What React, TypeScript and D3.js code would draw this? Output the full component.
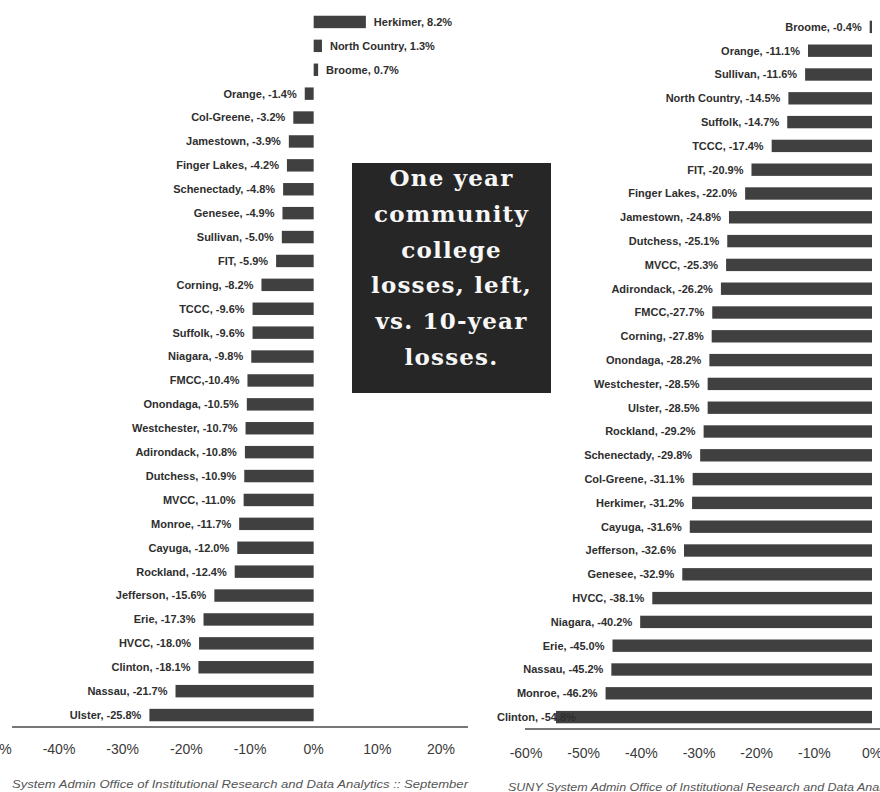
import { useEffect, useRef } from 'react';
import * as d3 from 'd3';

// one-year change, fall to fall, sorted as in the source chart
const ONE_YEAR_COLLEGES = [
  'Herkimer', 'North Country', 'Broome', 'Orange', 'Col-Greene', 'Jamestown',
  'Finger Lakes', 'Schenectady', 'Genesee', 'Sullivan', 'FIT', 'Corning',
  'TCCC', 'Suffolk', 'Niagara', 'FMCC', 'Onondaga', 'Westchester',
  'Adirondack', 'Dutchess', 'MVCC', 'Monroe', 'Cayuga', 'Rockland',
  'Jefferson', 'Erie', 'HVCC', 'Clinton', 'Nassau', 'Ulster',
];
const ONE_YEAR_CHANGE = [
  8.2, 1.3, 0.7, -1.4, -3.2, -3.9,
  -4.2, -4.8, -4.9, -5.0, -5.9, -8.2,
  -9.6, -9.6, -9.8, -10.4, -10.5, -10.7,
  -10.8, -10.9, -11.0, -11.7, -12.0, -12.4,
  -15.6, -17.3, -18.0, -18.1, -21.7, -25.8,
];

// ten-year change
const TEN_YEAR_COLLEGES = [
  'Broome', 'Orange', 'Sullivan', 'North Country', 'Suffolk', 'TCCC',
  'FIT', 'Finger Lakes', 'Jamestown', 'Dutchess', 'MVCC', 'Adirondack',
  'FMCC', 'Corning', 'Onondaga', 'Westchester', 'Ulster', 'Rockland',
  'Schenectady', 'Col-Greene', 'Herkimer', 'Cayuga', 'Jefferson', 'Genesee',
  'HVCC', 'Niagara', 'Erie', 'Nassau', 'Monroe', 'Clinton',
];
const TEN_YEAR_CHANGE = [
  -0.4, -11.1, -11.6, -14.5, -14.7, -17.4,
  -20.9, -22.0, -24.8, -25.1, -25.3, -26.2,
  -27.7, -27.8, -28.2, -28.5, -28.5, -29.2,
  -29.8, -31.1, -31.2, -31.6, -32.6, -32.9,
  -38.1, -40.2, -45.0, -45.2, -46.2, -54.8,
];

const ONE_YEAR_TICKS = [-50, -40, -30, -20, -10, 0, 10, 20];
const TEN_YEAR_TICKS = [-60, -50, -40, -30, -20, -10, 0];

const CALLOUT_LINES = ['One year', 'community', 'college', 'losses, left,', 'vs. 10-year', 'losses.'];
const ONE_YEAR_SOURCE = 'System Admin Office of Institutional Research and Data Analytics :: September';
const TEN_YEAR_SOURCE = 'SUNY System Admin Office of Institutional Research and Data Analytics';

const WIDTH = 880;
const HEIGHT = 792;
const BAR_FILL = '#404040';
const LABEL_FILL = '#2e2e2e';
const AXIS_STROKE = '#777777';
const SANS = '"Liberation Sans", Arial, sans-serif';
const LABEL_GAP = 8;

type Panel = {
  colleges: string[];
  values: number[];
  ticks: number[];
  x: d3.ScaleLinear<number, number>;
  y: d3.ScaleBand<string>;
  axisFrom: number;
  axisTo: number;
  tickY: number;
  labelMinX: number;
};

function barLabel(name: string, v: number) {
  // the FMCC label has no space after the comma in the source
  const sep = name === 'FMCC' ? ',' : ', ';
  return `${name}${sep}${v.toFixed(1)}%`;
}

function drawPanel(svg: d3.Selection<SVGSVGElement, unknown, null, undefined>, p: Panel) {
  const g = svg.append('g');
  const zero = p.x(0);
  const bw = p.y.bandwidth();

  g.selectAll('rect.bar')
    .data(p.values)
    .join('rect')
    .attr('class', 'bar')
    .attr('x', (d) => Math.min(p.x(d), zero))
    .attr('y', (_, i) => p.y(p.colleges[i]) ?? 0)
    .attr('width', (d) => Math.abs(p.x(d) - zero))
    .attr('height', bw)
    .attr('fill', BAR_FILL);

  const axisY = p.y.range()[1];
  g.append('line')
    .attr('x1', p.axisFrom)
    .attr('x2', p.axisTo)
    .attr('y1', axisY)
    .attr('y2', axisY)
    .attr('stroke', AXIS_STROKE)
    .attr('stroke-width', 2);

  g.selectAll('text.tick')
    .data(p.ticks)
    .join('text')
    .attr('class', 'tick')
    .attr('x', (t) => p.x(t))
    .attr('y', p.tickY)
    .attr('text-anchor', 'middle')
    .attr('font-family', SANS)
    .attr('font-size', 14)
    .attr('fill', '#3a3a3a')
    .text((t) => `${t}%`);

  p.values.forEach((v, i) => {
    const name = p.colleges[i];
    const cy = (p.y(name) ?? 0) + bw / 2;
    const t = g
      .append('text')
      .attr('y', cy)
      .attr('dy', '0.35em')
      .attr('font-family', SANS)
      .attr('font-size', 11)
      .attr('font-weight', 700)
      .attr('fill', LABEL_FILL)
      .text(barLabel(name, v));
    if (v >= 0) {
      t.attr('x', p.x(v) + LABEL_GAP).attr('text-anchor', 'start');
    } else {
      const end = p.x(v) - LABEL_GAP;
      const w = (t.node() as SVGTextElement).getComputedTextLength();
      if (end - w < p.labelMinX) {
        // no room left of the bar: pin to the plot edge, like Excel does
        t.attr('x', p.labelMinX).attr('text-anchor', 'start');
      } else {
        t.attr('x', end).attr('text-anchor', 'end');
      }
    }
  });
}

export default function App() {
  const ref = useRef<SVGSVGElement | null>(null);

  useEffect(() => {
    if (!ref.current) return;
    const svg = d3.select(ref.current);
    svg.selectAll('*').remove();

    svg.append('rect').attr('width', WIDTH).attr('height', HEIGHT).attr('fill', '#ffffff');

    const xLeft = d3.scaleLinear().domain([-40, 20]).range([59, 441]);
    const yLeft = d3
      .scaleBand<string>()
      .domain(ONE_YEAR_COLLEGES)
      .range([10, 727])
      .paddingInner(0.48)
      .paddingOuter(0.24);

    const xRight = d3.scaleLinear().domain([-60, 0]).range([526, 872]);
    const yRight = d3
      .scaleBand<string>()
      .domain(TEN_YEAR_COLLEGES)
      .range([15, 729])
      .paddingInner(0.48)
      .paddingOuter(0.24);

    drawPanel(svg, {
      colleges: ONE_YEAR_COLLEGES,
      values: ONE_YEAR_CHANGE,
      ticks: ONE_YEAR_TICKS,
      x: xLeft,
      y: yLeft,
      axisFrom: 12,
      axisTo: 468,
      tickY: 754,
      labelMinX: 12,
    });

    drawPanel(svg, {
      colleges: TEN_YEAR_COLLEGES,
      values: TEN_YEAR_CHANGE,
      ticks: TEN_YEAR_TICKS,
      x: xRight,
      y: yRight,
      axisFrom: 525,
      axisTo: WIDTH,
      tickY: 758,
      labelMinX: 497,
    });

    // callout box
    const box = { x: 352, y: 163, w: 199, h: 230 };
    svg
      .append('rect')
      .attr('x', box.x)
      .attr('y', box.y)
      .attr('width', box.w)
      .attr('height', box.h)
      .attr('fill', '#262626');
    svg
      .append('g')
      .selectAll('text')
      .data(CALLOUT_LINES)
      .join('text')
      .attr('x', box.x + box.w / 2)
      .attr('y', (_, i) => 186 + i * 35.8)
      .attr('text-anchor', 'middle')
      .attr('font-family', '"DejaVu Serif", serif')
      .attr('font-weight', 700)
      .attr('font-size', 23)
      .attr('letter-spacing', 1.2)
      .attr('fill', '#f7f7f7')
      .text((d) => d);

    // sources (both run past their panel edge in the source image)
    svg
      .append('text')
      .attr('x', 12)
      .attr('y', 788)
      .attr('font-family', SANS)
      .attr('font-style', 'italic')
      .attr('font-size', 11.5)
      .attr('fill', '#555555')
      .attr('textLength', 456)
      .attr('lengthAdjust', 'spacingAndGlyphs')
      .text(ONE_YEAR_SOURCE);
    svg
      .append('text')
      .attr('x', 508)
      .attr('y', 791)
      .attr('font-family', SANS)
      .attr('font-style', 'italic')
      .attr('font-size', 11.5)
      .attr('fill', '#555555')
      .attr('textLength', 399)
      .attr('lengthAdjust', 'spacingAndGlyphs')
      .text(TEN_YEAR_SOURCE);
  }, []);

  return (
    <div style={{ position: 'absolute', left: 0, top: 0, width: WIDTH, height: HEIGHT }}>
      <svg ref={ref} width={WIDTH} height={HEIGHT} viewBox={`0 0 ${WIDTH} ${HEIGHT}`} style={{ display: 'block' }} />
    </div>
  );
}
